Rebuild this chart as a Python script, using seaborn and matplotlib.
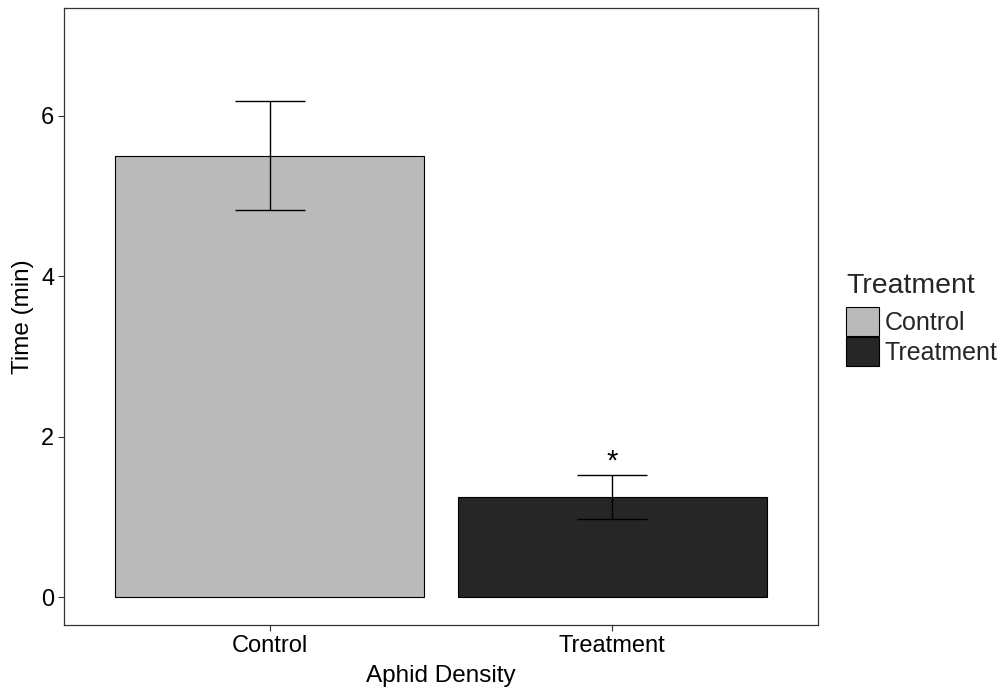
import matplotlib
matplotlib.use("Agg")
import matplotlib.pyplot as plt
import seaborn as sns
import pandas as pd
from matplotlib.patches import Patch

categories = ["Control", "Treatment"]
means = [5.5, 1.25]
se = [0.68, 0.27]
colors = ["#BABABA", "#262626"]
y_ticks = [0, 2, 4, 6]

sns.set_theme(style="white")
plt.rcParams['font.family'] = ['Liberation Sans', 'DejaVu Sans']

df = pd.DataFrame({"group": categories, "time": means})

fig = plt.figure(figsize=(10.05, 6.91), dpi=100)
ax = fig.add_axes([64/1005, 1-625/691, (818-64)/1005, (625-8)/691])

sns.barplot(data=df, x="group", y="time", hue="group", palette=colors,
            width=0.9, edgecolor="black", linewidth=0.8, errorbar=None,
            legend=False, ax=ax, saturation=1)

xs = list(range(len(categories)))
ax.errorbar(xs, means, yerr=se, fmt="none", ecolor="black", elinewidth=1.0,
            capsize=25.5, capthick=1.0)
ax.text(xs[1], means[1] + se[1] + 0.0, "*", ha="center", va="bottom",
        fontsize=21, color="black")

ax.set_xlim(-0.6, 1.6)
ax.set_ylim(-0.345, 7.34)
ax.set_yticks(y_ticks)
ax.set_yticklabels([str(t) for t in y_ticks])
ax.set_xlabel("Aphid Density", fontsize=17.5, color="black", labelpad=6)
ax.set_ylabel("Time (min)", fontsize=17.5, color="black", labelpad=5)
ax.tick_params(axis="both", labelsize=17, labelcolor="black", length=4,
               width=0.8, color="#333333", left=True, bottom=True, pad=3)
for s in ax.spines.values():
    s.set_color("#333333")
    s.set_linewidth(0.9)

handles = [Patch(facecolor=c, edgecolor="black", linewidth=0.8, label=l)
           for c, l in zip(colors, categories)]
leg = fig.legend(handles=handles, title="Treatment", loc="upper left",
                 bbox_to_anchor=(836/1005, 1-263/691), frameon=False,
                 fontsize=18, title_fontsize=20.5, handlelength=1.3,
                 handleheight=1.4, handletextpad=0.25, labelspacing=0.05,
                 borderaxespad=0)
leg._legend_box.align = "left"
leg._legend_box.sep = 6

fig.savefig("out.png", dpi=100)
